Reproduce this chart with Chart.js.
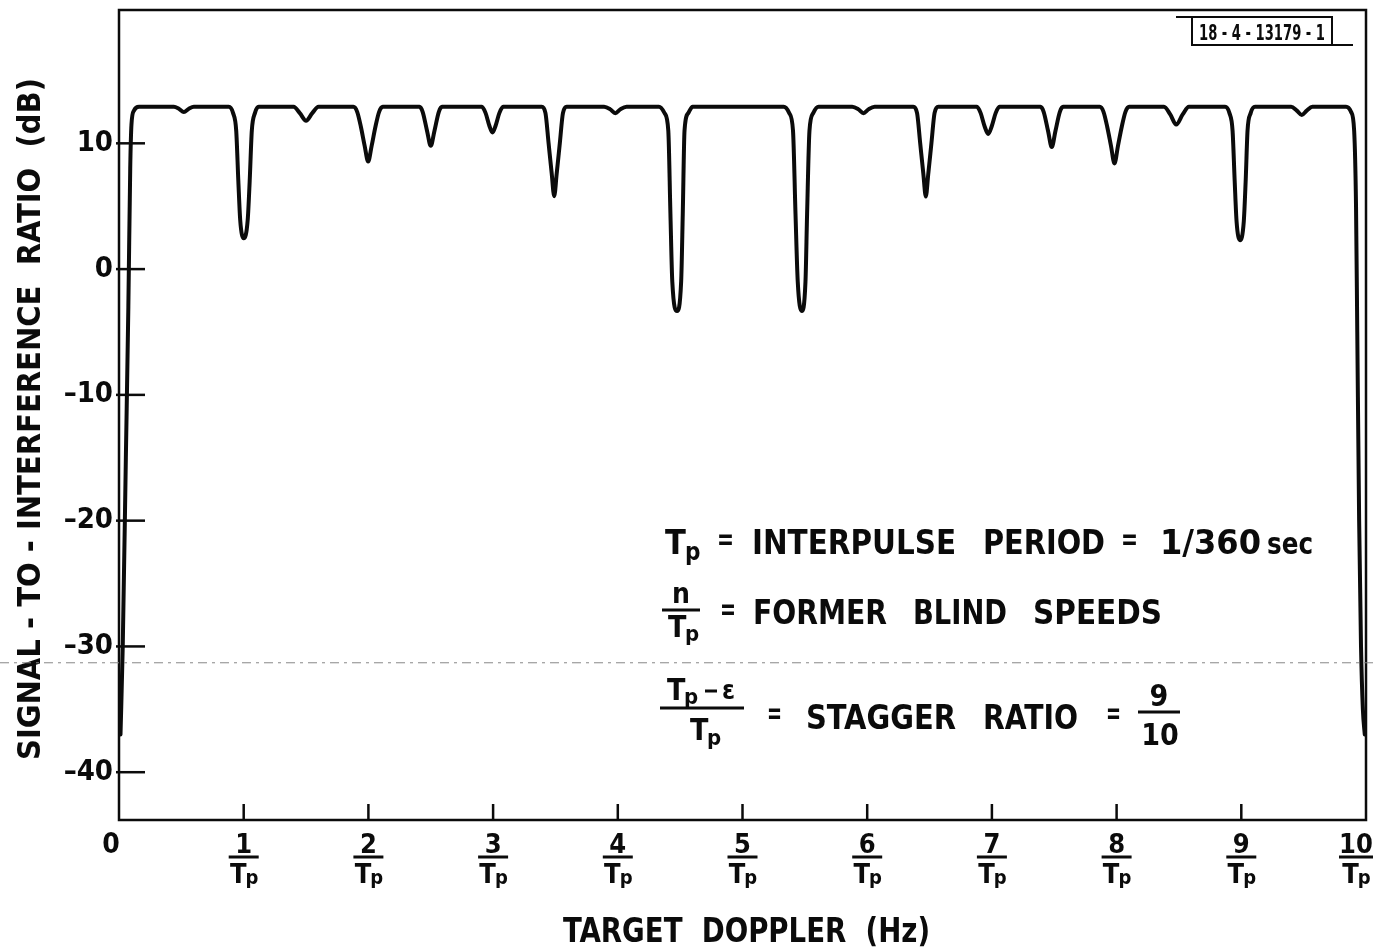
<!DOCTYPE html>
<html><head><meta charset="utf-8">
<script src="https://cdn.jsdelivr.net/npm/chart.js@4.4.1/dist/chart.umd.min.js"></script>
<style>html,body{margin:0;padding:0;background:#fff;}canvas{display:block;}</style>
</head><body>
<canvas id="c" width="1377" height="947"></canvas>
<script>
// Target Doppler in units of 1/Tp
const dopplerX = [
  0.012,0.03,0.055,0.075,0.09,0.1,0.12,0.16,
  0.44,0.48,0.52,0.56,0.6,
  0.88,0.915,0.94,0.957,0.972,1.0,1.032,1.048,1.065,1.09,1.12,
  1.4,1.45,1.5,1.55,1.6,
  1.88,1.91,1.94,1.97,1.998,2.026,2.056,2.086,2.115,
  2.41,2.435,2.47,2.5,2.53,2.565,2.59,
  2.91,2.94,2.97,2.995,3.02,3.05,3.08,
  3.39,3.42,3.445,3.47,3.49,3.51,3.535,3.56,3.59,
  3.89,3.94,3.98,4.02,4.07,
  4.33,4.375,4.405,4.422,4.437,4.475,4.508,4.521,4.535,4.565,4.6,
  5.33,5.375,5.405,5.425,5.443,5.475,5.505,5.518,5.537,5.567,5.61,
  5.88,5.93,5.97,6.01,6.06,
  6.37,6.40,6.425,6.45,6.47,6.49,6.515,6.54,6.57,
  6.88,6.91,6.94,6.97,7.0,7.03,7.06,
  7.39,7.415,7.45,7.48,7.51,7.545,7.57,
  7.865,7.895,7.925,7.955,7.983,8.011,8.041,8.071,8.1,
  8.38,8.43,8.478,8.53,8.58,
  8.87,8.905,8.93,8.947,8.962,8.99,9.02,9.035,9.05,9.075,9.11,
  9.4,9.445,9.485,9.525,9.57,
  9.84,9.88,9.905,9.92,9.93,9.945,9.96,9.975,9.99
];
// Signal-to-interference ratio (dB)
const sirDb = [
  -37,-30,-15,-3,8,11.5,12.6,12.9,
  12.9,12.75,12.5,12.75,12.9,
  12.9,12.4,11.0,7.0,3.9,2.45,3.9,7.0,11.0,12.4,12.9,
  12.9,12.4,11.8,12.4,12.9,
  12.9,12.5,11.3,9.8,8.55,9.8,11.3,12.5,12.9,
  12.9,12.5,11.0,9.8,11.0,12.5,12.9,
  12.9,12.4,11.4,10.86,11.4,12.4,12.9,
  12.9,12.4,10.0,7.6,5.8,7.6,10.0,12.4,12.9,
  12.9,12.7,12.4,12.7,12.9,
  12.9,12.4,11.0,4.4,-1.0,-3.33,-1.0,4.4,11.0,12.4,12.9,
  12.9,12.4,11.0,4.4,-1.0,-3.33,-1.0,4.4,11.0,12.4,12.9,
  12.9,12.7,12.4,12.7,12.9,
  12.9,12.4,10.0,7.6,5.77,7.6,10.0,12.4,12.9,
  12.9,12.4,11.4,10.75,11.4,12.4,12.9,
  12.9,12.5,11.0,9.7,11.0,12.5,12.9,
  12.9,12.5,11.3,9.8,8.4,9.8,11.3,12.5,12.9,
  12.9,12.3,11.5,12.3,12.9,
  12.9,12.4,11.0,7.0,3.8,2.3,3.8,7.0,11.0,12.4,12.9,
  12.9,12.6,12.25,12.6,12.9,
  12.9,12.5,11.0,5,-5,-20,-30,-35,-37
];
const yTickValues = [-40, -30, -20, -10, 0, 10];
const xTickNumerators = [0, 1, 2, 3, 4, 5, 6, 7, 8, 9, 10];
const yTitle = 'SIGNAL - TO - INTERFERENCE  RATIO  (dB)';
const xTitle = 'TARGET  DOPPLER  (Hz)';
const figureId = '18 - 4 - 13179 - 1';

const FAM = "'DejaVu Sans Condensed','Liberation Sans Narrow','DejaVu Sans',sans-serif";
const INK = '#0b0b0b';

function font(size){ return 'bold ' + size + 'px ' + FAM; }
function txt(ctx, s, x, base, size, w){
  ctx.font = font(size);
  ctx.textAlign = 'left'; ctx.textBaseline = 'alphabetic';
  const m = ctx.measureText(s).width;
  ctx.save(); ctx.translate(x, base);
  if (w) ctx.scale(w / m, 1);
  ctx.fillText(s, 0, 0); ctx.restore();
}
function ctxt(ctx, s, cx, base, size){
  ctx.font = font(size); ctx.textAlign = 'center'; ctx.textBaseline = 'alphabetic';
  ctx.fillText(s, cx, base);
}
function hline(ctx, x1, x2, y, lw){
  ctx.lineWidth = lw; ctx.beginPath(); ctx.moveTo(x1, y); ctx.lineTo(x2, y); ctx.stroke();
}

const decor = {
  id: 'decor',
  afterDraw(chart){
    const {ctx, chartArea: {left, right, top, bottom}, scales: {x, y}} = chart;
    ctx.save();
    ctx.strokeStyle = INK; ctx.fillStyle = INK;
    // frame
    ctx.lineWidth = 2.5;
    ctx.strokeRect(left, top, right - left, bottom - top);
    // inner y ticks
    yTickValues.forEach(v => {
      const py = y.getPixelForValue(v);
      hline(ctx, left - 3, left + 26, py, 2.5);
    });
    // inner x ticks + fraction labels
    xTickNumerators.forEach(n => {
      const px = x.getPixelForValue(n);
      if (n !== 0 && n !== 10) {
        ctx.lineWidth = 2.5; ctx.beginPath(); ctx.moveTo(px, bottom); ctx.lineTo(px, bottom - 16); ctx.stroke();
      }
      if (n === 0) { ctxt(ctx, '0', px - 8, 853, 28); return; }
      const cx = n === 10 ? px - 10 : px;
      ctxt(ctx, String(n), cx, 853, 27);
      const hw = n === 10 ? 17 : 15;
      hline(ctx, cx - hw, cx + hw, 857, 3);
      ctx.font = font(27); const wT = ctx.measureText('T').width;
      ctx.font = font(20); const wp = ctx.measureText('p').width;
      const x0 = cx - (wT + wp) / 2 + 1;
      txt(ctx, 'T', x0, 883, 27);
      txt(ctx, 'p', x0 + wT - 1, 884, 20);
    });
    // axis titles
    ctx.save();
    ctx.translate(32, 419); ctx.rotate(-Math.PI / 2);
    ctx.font = font(32); ctx.textBaseline = 'middle';
    const wy = ctx.measureText(yTitle).width;
    ctx.scale(682 / wy, 1); ctx.textAlign = 'center'; ctx.fillText(yTitle, 0, 0);
    ctx.restore();
    txt(ctx, xTitle, 563, 942, 34, 367);

    // annotation line 1
    txt(ctx, 'T', 665, 554, 34);
    txt(ctx, 'p', 685, 560, 24);
    txt(ctx, '=', 717, 549, 30, 17);
    txt(ctx, 'INTERPULSE', 752, 554, 34, 204);
    txt(ctx, 'PERIOD', 983, 554, 34, 122);
    txt(ctx, '=', 1121, 549, 30, 17);
    txt(ctx, '1/360', 1160, 554, 34, 101);
    txt(ctx, 'sec', 1267, 554, 30, 46);
    // line 2
    ctxt(ctx, 'n', 681, 603, 28);
    hline(ctx, 662, 700, 610, 3);
    txt(ctx, 'T', 668, 637, 30);
    txt(ctx, 'p', 685, 641, 22);
    txt(ctx, '=', 720, 619, 30, 16);
    txt(ctx, 'FORMER', 753, 624, 34, 134);
    txt(ctx, 'BLIND', 913, 624, 34, 94);
    txt(ctx, 'SPEEDS', 1033, 624, 34, 129);
    // line 3
    txt(ctx, 'T', 667, 700, 30);
    txt(ctx, 'p', 684, 704, 22);
    hline(ctx, 705, 717, 691, 3);
    txt(ctx, '\u03B5', 722, 699, 26);
    hline(ctx, 660, 744, 708, 3);
    txt(ctx, 'T', 690, 740, 30);
    txt(ctx, 'p', 707, 745, 22);
    txt(ctx, '=', 767, 723, 30, 15);
    txt(ctx, 'STAGGER', 806, 729, 34, 150);
    txt(ctx, 'RATIO', 983, 729, 34, 95);
    txt(ctx, '=', 1106, 723, 30, 15);
    ctxt(ctx, '9', 1159, 706, 30);
    hline(ctx, 1138, 1180, 712, 3);
    ctxt(ctx, '10', 1160, 745, 30);

    // figure id box
    ctx.lineWidth = 2;
    ctx.beginPath();
    ctx.moveTo(1176, 17); ctx.lineTo(1332, 17); ctx.lineTo(1332, 45);
    ctx.moveTo(1192, 17); ctx.lineTo(1192, 45); ctx.lineTo(1353, 45);
    ctx.stroke();
    txt(ctx, figureId, 1199, 40, 21, 126);

    // faint scan line
    ctx.strokeStyle = '#888'; ctx.lineWidth = 1; ctx.setLineDash([9, 5, 3, 5]);
    const sy = y.getPixelForValue(-31.3);
    hline(ctx, 0, 1377, sy, 1);
    ctx.restore();
  }
};

new Chart(document.getElementById('c'), {
  type: 'line',
  data: {
    datasets: [{
      data: dopplerX.map((v, i) => ({x: v, y: sirDb[i]})),
      borderColor: INK, borderWidth: 4, pointRadius: 0,
      cubicInterpolationMode: 'monotone', fill: false,
      borderJoinStyle: 'round', borderCapStyle: 'round'
    }]
  },
  options: {
    responsive: false, animation: false, devicePixelRatio: 1,
    layout: {padding: {left: 0, right: 11, top: 10, bottom: 0}},
    plugins: {legend: {display: false}, tooltip: {enabled: false}},
    scales: {
      x: {
        type: 'linear', min: 0, max: 10,
        ticks: {display: false, stepSize: 1},
        grid: {display: false}, border: {display: false},
        afterFit(s){ s.height = 127; s.paddingLeft = 0; s.paddingRight = 0; }
      },
      y: {
        type: 'linear', min: -43.8, max: 20.6,
        afterBuildTicks(s){ s.ticks = yTickValues.map(v => ({value: v})); },
        ticks: {
          color: INK, padding: 6,
          font: {family: FAM, size: 29, weight: 'bold'},
          callback: v => v < 0 ? '\u2013' + Math.abs(v) : String(v)
        },
        grid: {display: false, drawTicks: false}, border: {display: false},
        afterFit(s){ s.width = 119; s.paddingTop = 0; s.paddingBottom = 0; }
      }
    }
  },
  plugins: [decor]
});
</script>
</body></html>
